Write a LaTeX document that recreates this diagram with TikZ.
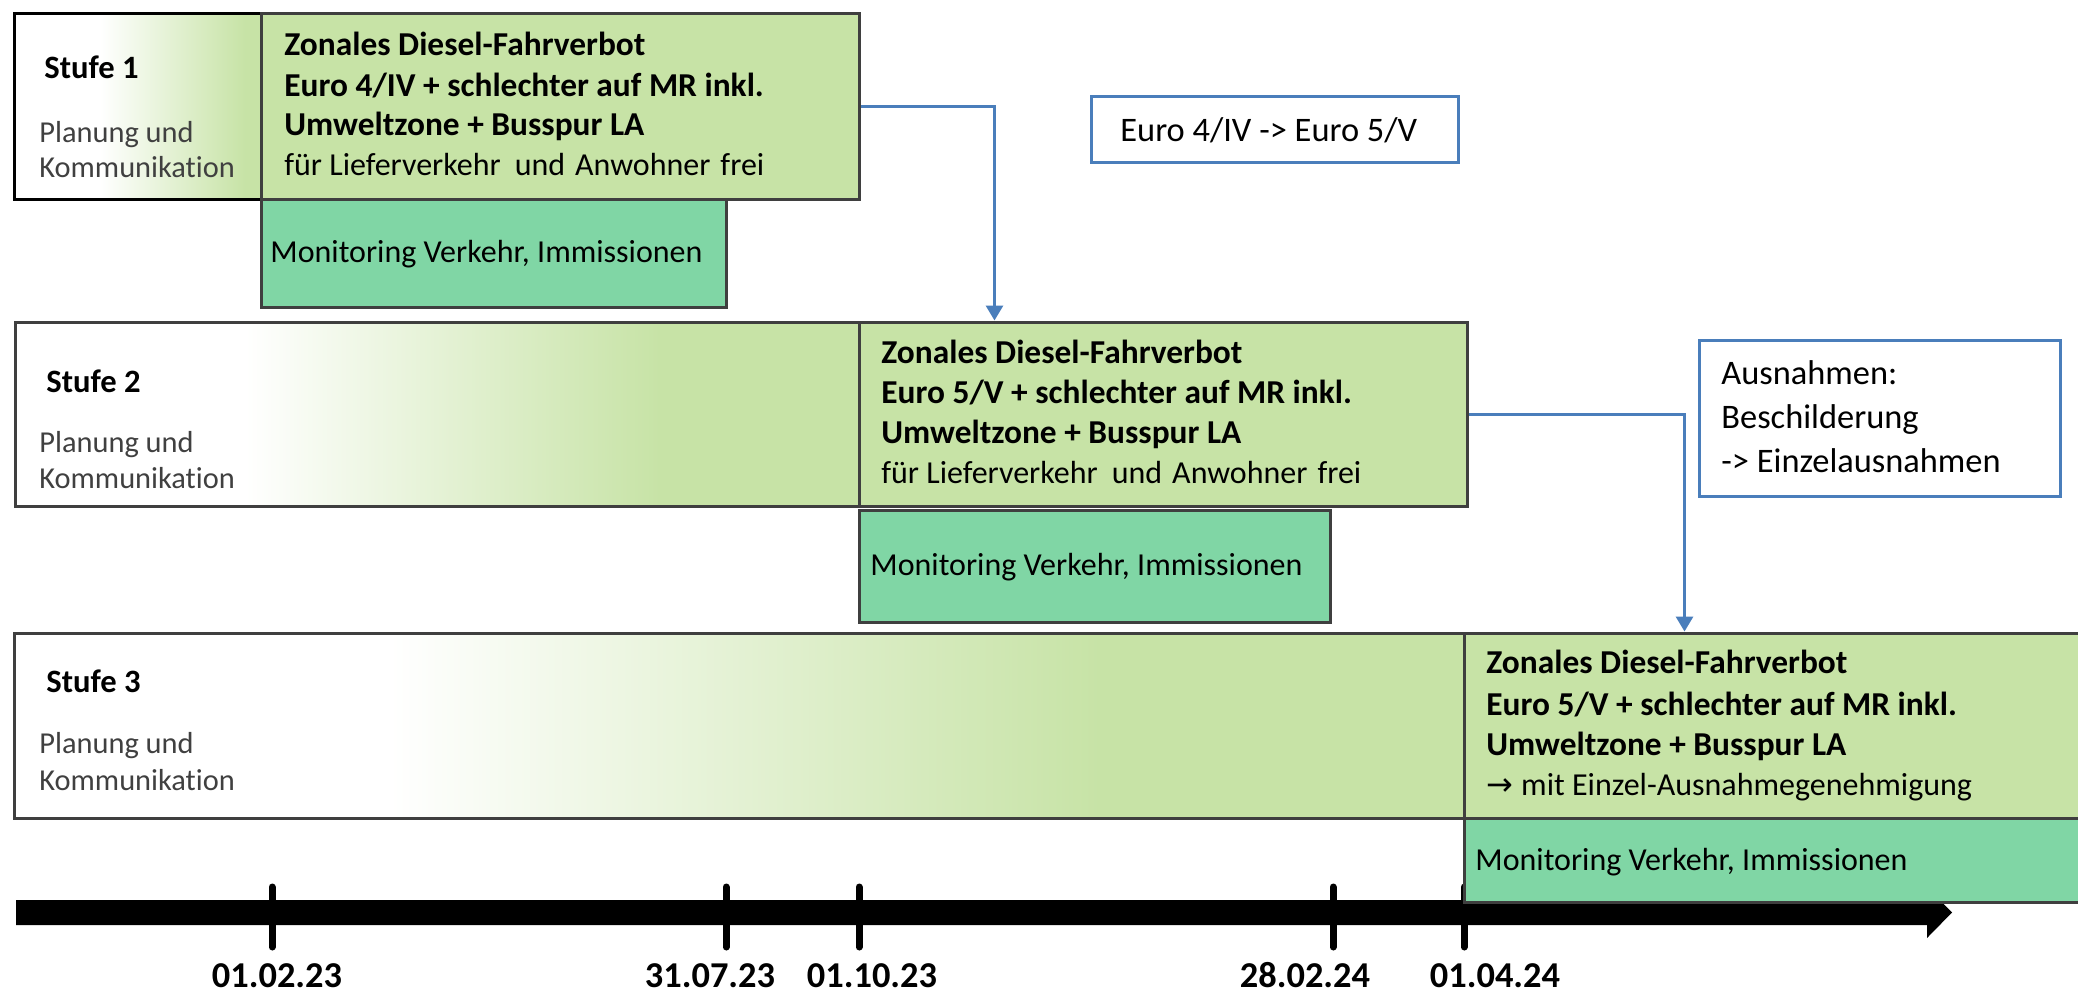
\documentclass[tikz,border=0pt]{standalone}
\usepackage{fontspec}
\setmainfont[Ligatures=NoCommon]{Carlito}
\newfontfamily\symfont{DejaVu Sans}
\usetikzlibrary{arrows.meta,fit,calc}
\definecolor{lgreen}{HTML}{C7E3A6}
\definecolor{mint}{HTML}{80D6A5}
\definecolor{bordergrey}{HTML}{3F3F3F}
\definecolor{bluec}{HTML}{4A7EBB}
\definecolor{greytext}{HTML}{404040}
\tikzset{
  box/.style={draw=bordergrey, line width=1.5pt, inner sep=0pt, rectangle},
  bluebox/.style={draw=bluec, line width=1.5pt, inner sep=0pt, rectangle, fill=white},
  txtb/.style={font=\fontsize{16.7}{20}\selectfont\bfseries, anchor=base west, inner sep=0pt},
  txt/.style={font=\fontsize{16}{19}\selectfont, anchor=base west, inner sep=0pt},
  txtbig/.style={font=\fontsize{17.2}{21}\selectfont, anchor=base west, inner sep=0pt},
  stufe/.style={font=\fontsize{16.3}{19}\selectfont\bfseries, anchor=base west, inner sep=0pt},
  plan/.style={font=\fontsize{15.2}{18}\selectfont, text=greytext, anchor=base west, inner sep=0pt},
  datum/.style={font=\fontsize{18.2}{21}\selectfont\bfseries, anchor=base, inner sep=0pt},
  conn/.style={draw=bluec, line width=1.5pt, -{Triangle[width=8.5pt,length=7.5pt]}},
  tick/.style={line width=3.5pt, line cap=round, black}
}
\begin{document}
\begin{tikzpicture}[x=0.5pt,y=-0.5pt]
\useasboundingbox[fill=white] (0,0) rectangle (2078,992);

% timeline
\fill[black] (16,900) -- (1927,900) -- (1927,887) -- (1952,912.5) -- (1927,938) -- (1927,925) -- (16,925) -- cycle;
\draw[tick] (272,887) -- (272,947);
\draw[tick] (726,887) -- (726,947);
\draw[tick] (859,887) -- (859,947);
\draw[tick] (1333,887) -- (1333,947);
\draw[tick] (1464,887) -- (1464,947);
\node[datum] (d1) at (277,987) {01.02.23};
\node[datum] (d2) at (710,987) {31.07.23};
\node[datum] (d3) at (872,987) {01.10.23};
\node[datum] (d4) at (1305,987) {28.02.24};
\node[datum] (d5) at (1495,987) {01.04.24};

% Stufe 1
\fill[white] (14,13) rectangle (100,199);
\shade[left color=white, right color=lgreen] (100,13) rectangle (245,199);
\fill[lgreen] (245,13) rectangle (261,199);
\node[box, draw=black, fit={(14,13) (261,199)}] (s1) {};
\node[box, fill=lgreen, fit={(261,13) (859,199)}] (g1) {};
\node[box, fill=mint, fit={(261,199) (726,307)}] (m1) {};
\node[stufe] (s1a) at (44,78) {Stufe 1};
\node[plan] (s1b) at (39,142) {Planung und};
\node[plan] (s1c) at (39,177) {Kommunikation};
\node[txtb] (g1a) at (284,55) {Zonales Diesel-Fahrverbot};
\node[txtb] (g1b) at (284,96) {Euro 4/IV + schlechter auf MR inkl.};
\node[txtb] (g1c) at (284,135) {Umweltzone + Busspur LA};
\node[txt] (g1d) at (284,175) {für Lieferverkehr\hspace{7pt}und\hspace{5pt}Anwohner\hspace{5pt}frei};
\node[txt] (m1a) at (270,262) {Monitoring Verkehr, Immissionen};

% Euro box
\node[bluebox, fit={(1091,96) (1458,162)}] (eu) {};
\node[txtbig] (eua) at (1120,141) {Euro 4/IV -> Euro 5/V};

% Stufe 2
\fill[white] (15,322) rectangle (245,506);
\shade[left color=white, right color=lgreen] (245,322) rectangle (660,506);
\fill[lgreen] (660,322) rectangle (859,506);
\node[box, fit={(15,322) (859,506)}] (s2) {};
\node[box, fill=lgreen, fit={(859,322) (1467,506)}] (g2) {};
\node[box, fill=mint, fit={(859,510) (1330,622)}] (m2) {};
\node[stufe] (s2a) at (46,392) {Stufe 2};
\node[plan] (s2b) at (39,452) {Planung und};
\node[plan] (s2c) at (39,488) {Kommunikation};
\node[txtb] (g2a) at (881,363) {Zonales Diesel-Fahrverbot};
\node[txtb] (g2b) at (881,403) {Euro 5/V + schlechter auf MR inkl.};
\node[txtb] (g2c) at (881,443) {Umweltzone + Busspur LA};
\node[txt] (g2d) at (881,483) {für Lieferverkehr\hspace{7pt}und\hspace{5pt}Anwohner\hspace{5pt}frei};
\node[txt] (m2a) at (870,575) {Monitoring Verkehr, Immissionen};

% Ausnahmen box
\node[bluebox, fit={(1699,340) (2060,496)}] (au) {};
\node[txtbig] (aua) at (1721,384) {Ausnahmen:};
\node[txtbig] (aub) at (1721,428) {Beschilderung};
\node[txtbig] (auc) at (1721,472) {-> Einzelausnahmen};

% Stufe 3
\fill[white] (14,633) rectangle (390,818);
\shade[left color=white, right color=lgreen] (390,633) rectangle (1100,818);
\fill[lgreen] (1100,633) rectangle (1464,818);
\node[box, fit={(14,633) (1464,818)}] (s3) {};
\node[box, fill=lgreen, fit={(1464,633) (2090,818)}] (g3) {};
\node[box, fill=mint, fit={(1464,818) (2090,902)}] (m3) {};
\node[stufe] (s3a) at (46,692) {Stufe 3};
\node[plan] (s3b) at (39,753) {Planung und};
\node[plan] (s3c) at (39,790) {Kommunikation};
\node[txtb] (g3a) at (1486,673) {Zonales Diesel-Fahrverbot};
\node[txtb] (g3b) at (1486,715) {Euro 5/V + schlechter auf MR inkl.};
\node[txtb] (g3c) at (1486,755) {Umweltzone + Busspur LA};
\node[txt] (g3d) at (1486,795) {{\symfont\fontsize{16}{19}\selectfont →}\hspace{4pt}mit Einzel-Ausnahmegenehmigung};
\node[txt] (m3a) at (1475,870) {Monitoring Verkehr, Immissionen};

% connectors
\draw[conn] (g1.east) -| ($(g2.north west)+(137,0)$);
\draw[conn] (g2.east) -| ($(g3.north west)+(222,0)$);
\end{tikzpicture}
\end{document}
